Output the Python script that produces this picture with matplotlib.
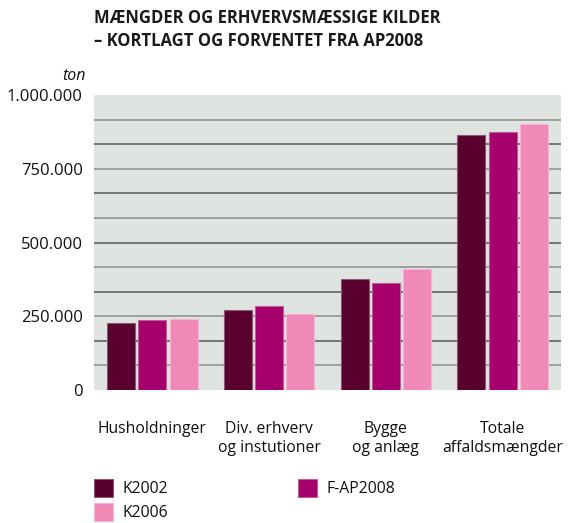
import matplotlib
matplotlib.use("Agg")
import matplotlib.pyplot as plt
import numpy as np
from matplotlib.patches import Rectangle

categories = ["Husholdninger", "Div. erhverv\nog instutioner", "Bygge\nog anlæg", "Totale\naffaldsmængder"]
series_names = ["K2002", "F-AP2008", "K2006"]
k2002 = [226000, 270000, 375000, 864000]
fap2008 = [236000, 285000, 362000, 876000]
k2006 = [240000, 256000, 411000, 902000]
yticks = [0, 250000, 500000, 750000, 1000000]
ytick_labels = ["0", "250.000", "500.000", "750.000", "1.000.000"]

colors = ["#5a002e", "#a5006b", "#f088b8"]
edges = ["#8a5a72", "#c05a98", "#f6b4d2"]

plt.rcParams['font.family'] = ['Open Sans', 'DejaVu Sans']

W, H = 568, 523
fig = plt.figure(figsize=(W / 100, H / 100), dpi=100)
ax = fig.add_axes([94 / W, 1 - 390 / H, 467 / W, 295 / H])
ax.set_facecolor("#dfe4e0")

x = np.arange(len(categories))
offsets = [-0.267, 0, 0.267]
for vals, off, c, ec in zip([k2002, fap2008, k2006], offsets, colors, edges):
    ax.bar(x + off, vals, width=0.24, color=c, edgecolor=ec, linewidth=0.8, zorder=3)

step = 1000000 / 12
for k in range(1, 12):
    ax.axhline(k * step, color="#8a8e8b" if k % 2 else "#55585a", lw=1.1, zorder=2)

ax.set_xlim(-0.5, 3.5)
ax.set_ylim(0, 1000000)
ax.set_yticks(yticks)
ax.set_yticklabels(ytick_labels, fontsize=12, color="#111111")
ax.set_xticks(x)
ax.set_xticklabels(categories, fontsize=11.3, color="#111111", linespacing=1.3, va="top")
ax.tick_params(length=0, pad=8)
ax.tick_params(axis="x", pad=22)
for s in ax.spines.values():
    s.set_visible(False)

fig.text(94 / W, 1 - 9 / H, "MÆNGDER OG ERHVERVSMÆSSIGE KILDER\n– KORTLAGT OG FORVENTET FRA AP2008",
         fontsize=12, fontweight="bold", va="top", ha="left", color="#1a1a1a", linespacing=1.35)
fig.text(86 / W, 1 - 76 / H, "ton", fontsize=11.5, style="italic", ha="right", va="center", color="#111111")

# legend
leg = [(94, 479, 0), (298, 479, 1), (94, 503, 2)]
for lx, ly, i in leg:
    fig.patches.append(Rectangle((lx / W, 1 - (ly + 18) / H), 19 / W, 18 / H, transform=fig.transFigure,
                                 facecolor=colors[i], edgecolor=edges[i], lw=0.8))
    fig.text((lx + 29) / W, 1 - (ly + 10) / H, series_names[i], fontsize=11.3, va="center", ha="left", color="#111111")

fig.savefig("out.png", dpi=100)
